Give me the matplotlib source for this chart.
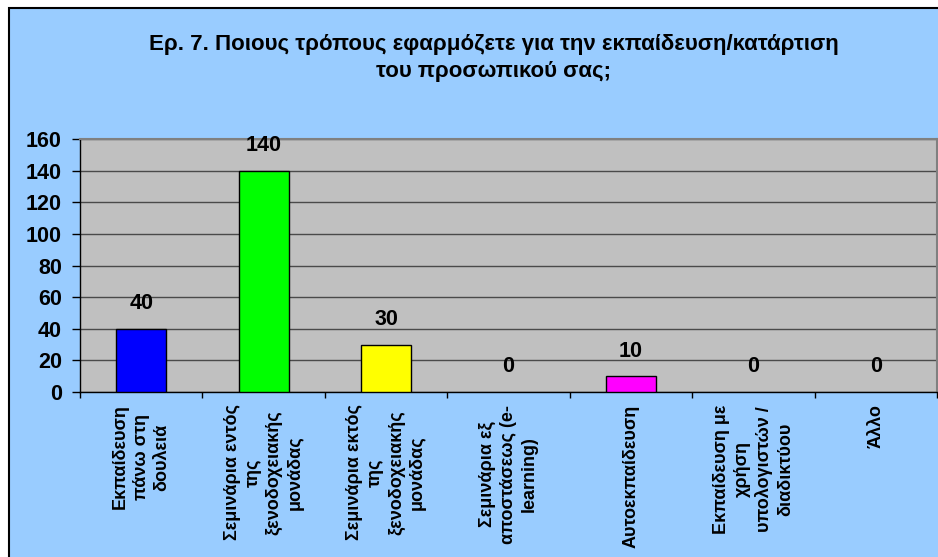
import matplotlib
matplotlib.use("Agg")
import matplotlib.pyplot as plt
from matplotlib.patches import Rectangle
from matplotlib.ticker import MultipleLocator
import numpy as np

plt.rcParams['font.family'] = ['Liberation Sans', 'DejaVu Sans']

# answers to question 7 (number of responses per training method)
categories = [
    'Εκπαίδευση\nπάνω στη\nδουλειά',
    'Σεμινάρια εντός\nτης\nξενοδοχειακής\nμονάδας',
    'Σεμινάρια εκτός\nτης\nξενοδοχειακής\nμονάδας',
    'Σεμινάρια εξ\nαποστάσεως (e-\nlearning)',
    'Αυτοεκπαίδευση',
    'Εκπαίδευση με\nχρήση\nυπολογιστών /\nδιαδικτύου',
    'Άλλο',
]
counts = [40, 140, 30, 0, 10, 0, 0]
bar_colors = ['#0000FF', '#00FF00', '#FFFF00', '#00FFFF', '#FF00FF', '#800000', '#008080']
title = 'Ερ. 7. Ποιους τρόπους εφαρμόζετε για την εκπαίδευση/κατάρτιση\nτου προσωπικού σας;'

fig = plt.figure(figsize=(9.38, 5.57), dpi=100)
fig.patch.set_facecolor('white')

# light blue chart panel with black frame
panel = Rectangle((9 / 938, -0.05), 1.05, 1.05 - 8 / 557,
                  transform=fig.transFigure, facecolor='#99CCFF',
                  edgecolor='black', linewidth=1.5, zorder=-10)
fig.add_artist(panel)

ax = fig.add_axes([80 / 938, 1 - 392 / 557, 857 / 938, 253 / 557])
ax.set_facecolor('#C0C0C0')

x = np.arange(len(categories))
edge_widths = [1.0 if v > 0 else 0 for v in counts]
bars = ax.bar(x, counts, width=0.41, color=bar_colors, edgecolor='black',
              linewidth=edge_widths, zorder=3)

for xi, v in zip(x, counts):
    ax.annotate(str(v), (xi, v), xytext=(0, 10.5), textcoords='offset points',
                ha='center', va='bottom', fontsize=15.5, fontweight='bold')

ax.set_xlim(-0.5, len(categories) - 0.5)
ax.set_ylim(0, 160)
ax.yaxis.set_major_locator(MultipleLocator(20))
ax.grid(axis='y', color='#4a4a4a', linewidth=1.0, zorder=1)
ax.set_axisbelow(True)

ax.set_xticks(x)
ax.set_xticklabels(categories, rotation=90, ha='center', va='top',
                   multialignment='center', fontsize=13, fontweight='bold',
                   linespacing=1.3)
ax.set_xticks(np.arange(len(categories) + 1) - 0.5, minor=True)
ax.tick_params(axis='x', which='major', length=0, pad=9)
ax.tick_params(axis='x', which='minor', length=4, width=1, color='black', direction='out')
ax.tick_params(axis='y', length=6, width=1, color='black', direction='out',
               labelsize=15.5, pad=7)
for lab in ax.get_yticklabels():
    lab.set_fontweight('bold')

for side in ['top', 'right']:
    ax.spines[side].set_color('#808080')
    ax.spines[side].set_linewidth(1.5)
for side in ['left', 'bottom']:
    ax.spines[side].set_color('black')
    ax.spines[side].set_linewidth(1.0)

fig.text(494 / 938, 1 - 58 / 557, title, ha='center', va='center',
         fontsize=16, fontweight='bold', linespacing=1.35)

fig.savefig('out.png', dpi=100)
